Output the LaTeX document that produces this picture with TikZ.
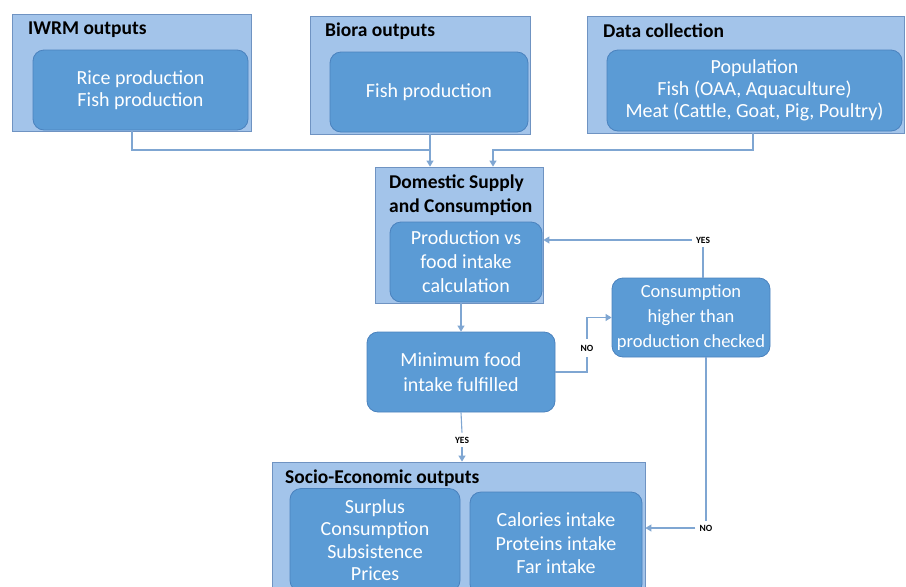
\documentclass[tikz,border=0pt]{standalone}
\usepackage{fontspec}
\setmainfont{Carlito}
\usetikzlibrary{arrows.meta}

\definecolor{outerfill}{HTML}{A3C4EA}
\definecolor{outerline}{HTML}{6F93C2}
\definecolor{innerfill}{HTML}{5B9BD5}
\definecolor{innerline}{HTML}{4A82BE}
\definecolor{flowcol}{HTML}{7FA6D2}

\tikzset{
    outerbox/.style={draw=outerline, fill=outerfill, line width=0.8pt, inner sep=0pt},
    innerbox/.style={draw=innerline, fill=innerfill, rounded corners=11pt, line width=0.8pt,
        text=white, align=center, font=\fontsize{20}{22}\selectfont, inner sep=0pt},
    headtext/.style={font=\fontsize{19.5}{24}\selectfont\bfseries, anchor=west, inner sep=0pt},
    flowline/.style={draw=flowcol, line width=1.1pt},
    tip/.style={-{Triangle[width=7pt,length=6pt]}},
    answer/.style={font=\fontsize{9.5}{10}\selectfont\bfseries, inner sep=4pt}
}

\begin{document}
\begin{tikzpicture}[x=1pt,y=-1pt]
    \useasboundingbox (0,0) rectangle (906,587);
    \clip (0,0) rectangle (906,587);

    % top row
    \node[outerbox, minimum width=239, minimum height=117] (iwrm) at (131.5,72.5) {};
    \node[innerbox, minimum width=215, minimum height=80] (iwrmin) at (140.5,90) {Rice production\\Fish production};
    \node[headtext] at (28,30) {IWRM outputs};

    \node[outerbox, minimum width=220, minimum height=118] (biora) at (420,75) {};
    \node[innerbox, minimum width=198, minimum height=80] (biorain) at (429,92) {Fish production};
    \node[headtext] at (325,31) {Biora outputs};

    \node[outerbox, minimum width=317, minimum height=117] (data) at (745.5,74.5) {};
    \node[innerbox, minimum width=295, minimum height=81] (datain) at (754.5,90.5)
        {Population\\Fish (OAA, Aquaculture)\\Meat (Cattle, Goat, Pig, Poultry)};
    \node[headtext] at (603,31) {Data collection};

    % middle
    \node[outerbox, minimum width=168, minimum height=136] (dsc) at (459,235) {};
    \node[innerbox, minimum width=152, minimum height=80, font=\fontsize{20}{24}\selectfont] (dscin) at (466,262)
        {Production vs\\food intake\\calculation};
    \node[headtext, anchor=north west, align=left] at (389,175) {Domestic Supply\\and Consumption};

    \node[innerbox, minimum width=188, minimum height=80, font=\fontsize{20}{25}\selectfont] (mft) at (461,372)
        {Minimum food\\intake fulfilled};
    \node[innerbox, minimum width=158, minimum height=79, font=\fontsize{18.5}{25}\selectfont] (cons) at (691,317.5)
        {Consumption\\higher than\\production checked};

    % bottom
    \node[outerbox, minimum width=373, minimum height=140] (soc) at (458.5,532) {};
    \node[headtext] at (285,478) {Socio-Economic outputs};
    \node[innerbox, minimum width=170, minimum height=103, font=\fontsize{20}{22.5}\selectfont] (socl) at (375,540)
        {Surplus\\Consumption\\Subsistence\\Prices};
    \node[innerbox, minimum width=172, minimum height=103, font=\fontsize{20}{23.5}\selectfont] (socr) at (556,543.5)
        {Calories intake\\Proteins intake\\Far intake};

    % labels
    \node[answer] (yesup) at (703,240) {YES};
    \node[answer, inner sep=6pt] (noup) at (587,348) {NO};
    \node[answer] (yesdown) at (462,440) {YES};
    \node[answer] (nodown) at (706,528) {NO};

    \coordinate (j1) at (430,150);
    \coordinate (j2) at (493,150);
    \coordinate (d1) at (753,150);

    % connectors
    \draw[flowline] (iwrm.south -| 132,0) |- (j1);
    \draw[flowline, tip] (biora.south -| j1) -- (dsc.north -| j1);
    \draw[flowline, tip] (data.south -| d1) |- (j2) -- (dsc.north -| j2);
    \draw[flowline, tip] (dsc.south -| mft.north) -- (mft.north);
    \draw[flowline] (mft.east) -| (noup.south);
    \draw[flowline, tip] (noup.north) |- (cons.west);
    \draw[flowline] (cons.north -| yesup) -- (yesup.south);
    \draw[flowline, tip] (yesup.west) -- (yesup.west -| dsc.east);
    \draw[flowline] (mft.south) -- (yesdown.north);
    \draw[flowline, tip] (yesdown.south) -- (soc.north -| yesdown);
    \draw[flowline] (cons.south -| nodown.north) -- (nodown.north);
    \draw[flowline, tip] (nodown.west) -- (nodown.west -| soc.east);
\end{tikzpicture}
\end{document}
